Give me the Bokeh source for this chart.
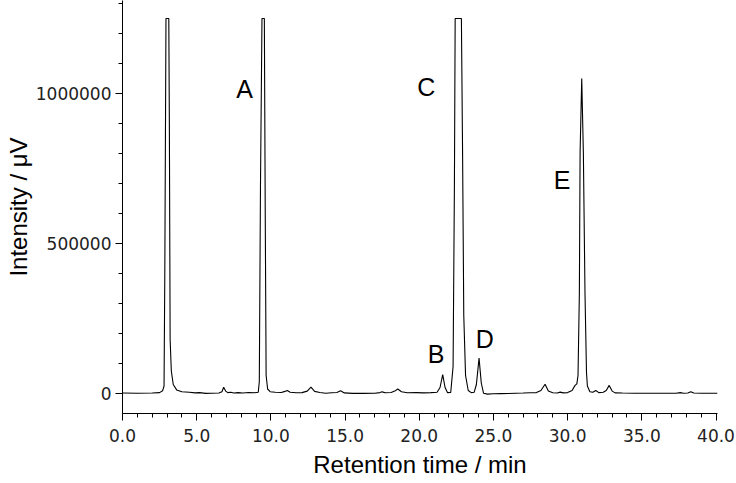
from bokeh.plotting import figure
from bokeh.models import Range1d, SingleIntervalTicker, NumeralTickFormatter, ColumnDataSource
from bokeh.embed import file_html
from bokeh.resources import INLINE
from bokeh.core.properties import value

# Chromatogram trace (retention time in min, intensity in µV)
retention_time = [
    0.0, 1.0, 2.0, 2.5, 2.7, 2.80, 2.85, 2.93, 3.12, 3.16, 3.21, 3.29, 3.42, 3.65, 4.0, 4.5, 4.9,
    5.2, 5.6, 6.0, 6.5, 6.7, 6.82, 6.95, 7.1, 7.3, 7.5, 7.8, 8.1, 8.5, 8.9, 9.15, 9.22, 9.30,
    9.40, 9.56, 9.62, 9.68, 9.78, 9.95, 10.3, 10.7, 10.95, 11.1, 11.3, 11.7, 12.1, 12.45, 12.7,
    12.95, 13.3, 13.7, 14.1, 14.45, 14.7, 14.95, 15.5, 16.2, 17.0, 17.35, 17.5, 17.7, 18.1,
    18.35, 18.55, 18.8, 19.2, 19.8, 20.3, 20.8, 21.2, 21.4, 21.58, 21.74, 21.9, 22.12, 22.28,
    22.37, 22.42, 22.84, 22.92, 23.0, 23.12, 23.3, 23.5, 23.7, 23.85, 24.03, 24.18, 24.33,
    24.6, 25.0, 25.5, 26.0, 26.5, 27.0, 27.5, 27.9, 28.2, 28.48, 28.7, 29.0, 29.3, 29.5, 29.7,
    30.0, 30.3, 30.5, 30.62, 30.70, 30.79, 30.84, 30.95, 31.06, 31.17, 31.27, 31.33, 31.5,
    31.7, 31.9, 32.1, 32.4, 32.6, 32.8, 33.0, 33.2, 33.7, 34.5, 35.5, 36.5, 37.3, 37.6, 37.8,
    38.1, 38.3, 38.5, 39.0, 40.1,
]
intensity = [
    1500, 1000, 1500, 3000, 9000, 25000, 390000, 1250000, 1250000, 880000, 180000, 75000,
    30000, 12000, 6000, 4000, 2000, 3000, 500, 1000, 1500, 6000, 21000, 8000, 3000, 4000,
    1500, 3000, 1500, 3500, 2500, 4000, 40000, 700000, 1250000, 1250000, 600000, 60000,
    15000, 6000, 4000, 3500, 7000, 10000, 4000, 2500, 3000, 8000, 21000, 7000, 3500, 1000,
    2500, 3500, 9000, 2000, 500, 500, 700, 3000, 5500, 2500, 3500, 8000, 15000, 6000, 2500,
    3000, 2000, 3000, 4000, 20000, 63000, 20000, 3000, 3500, 90000, 700000, 1250000,
    1250000, 800000, 260000, 60000, 10000, 3000, 4000, 30000, 118000, 35000, 1000, -2000,
    -1000, -500, 0, 1000, 1500, 2500, 3000, 10000, 31000, 8000, 2500, 1500, 4500, 2000,
    3000, 10000, 27000, 32000, 60000, 333000, 803000, 1050000, 803000, 333000, 71000,
    25000, 6000, 4000, 10000, 3000, 4000, 10000, 27000, 8000, 2000, 1500, 1000, 1000, 1000,
    1000, 3000, 1000, 1500, 6000, 1500, 1000, 1000,
]

# Peak annotations
peak_names = ["A", "B", "C", "D", "E"]
peak_label_time = [8.22, 21.14, 20.47, 24.41, 29.63]
peak_label_intensity = [1015000, 133000, 1023000, 180000, 711000]

p = figure(
    width=736, height=483,
    output_backend="svg", toolbar_location=None,
    x_range=Range1d(0, 40.1), y_range=Range1d(-66667, 1310000),
    min_border_left=122, min_border_right=19, min_border_top=0, min_border_bottom=70,
)
p.outline_line_color = None
p.grid.visible = False
p.background_fill_color = "white"
p.border_fill_color = "white"

p.line(retention_time, intensity, line_color="black", line_width=1.1)

src = ColumnDataSource(dict(t=peak_label_time, y=peak_label_intensity, name=peak_names))
p.text(x="t", y="y", text="name", source=src, text_align="center", text_baseline="middle",
       text_font=value("Liberation Sans"), text_font_size="25px", text_color="black")

xa = p.xaxis[0]
xa.ticker = SingleIntervalTicker(interval=5, num_minor_ticks=5)
xa.formatter = NumeralTickFormatter(format="0.0")
xa.axis_label = "Retention time / min"

ya = p.yaxis[0]
ya.ticker = SingleIntervalTicker(interval=500000, num_minor_ticks=5)
ya.formatter = NumeralTickFormatter(format="0")
ya.axis_label = "Intensity / μV"

for ax in (xa, ya):
    ax.axis_line_color = "black"
    ax.axis_line_width = 1
    ax.major_tick_line_color = "black"
    ax.minor_tick_line_color = "black"
    ax.major_tick_in = 0
    ax.major_tick_out = 7
    ax.minor_tick_in = 0
    ax.minor_tick_out = 4
    ax.major_label_text_font = "DejaVu Sans"
    ax.major_label_text_font_size = "17px"
    ax.major_label_text_color = "#222222"
    ax.axis_label_text_font = "Liberation Sans"
    ax.axis_label_text_font_size = "24px"
    ax.axis_label_text_font_style = "normal"
    ax.axis_label_text_color = "black"

xa.major_label_standoff = 8
xa.axis_label_standoff = 6
ya.major_label_standoff = 4
ya.axis_label_standoff = 1

open("out.html", "w").write(file_html(p, INLINE))
